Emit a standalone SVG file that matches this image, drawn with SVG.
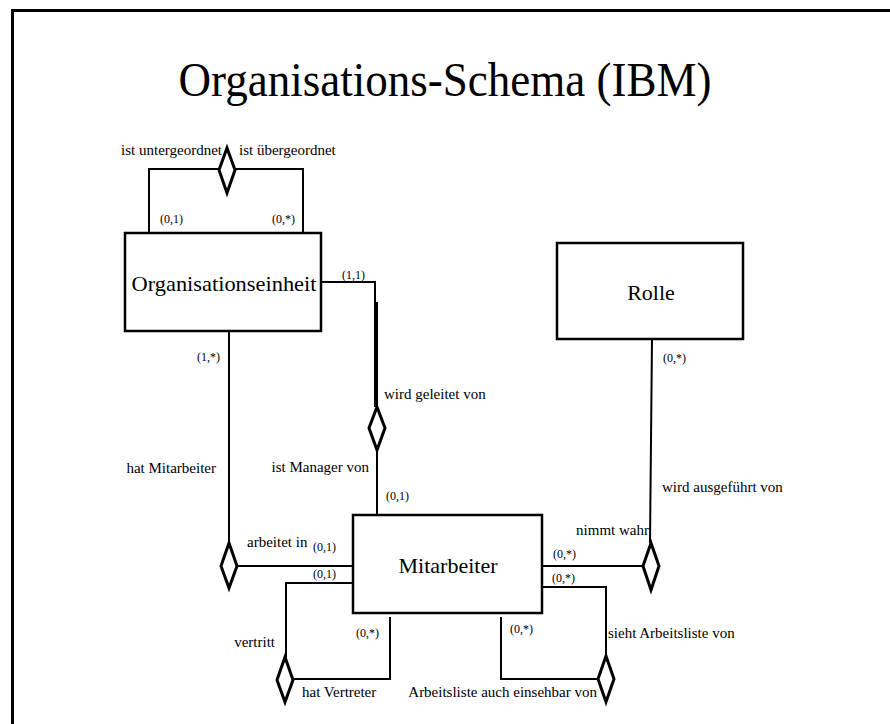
<svg xmlns="http://www.w3.org/2000/svg" width="890" height="724" viewBox="0 0 890 724">
<style>
.box{fill:#fff;stroke:#000;stroke-width:2.5}
.ln{fill:none;stroke:#000;stroke-width:2}
.dia{fill:#fff;stroke:#000;stroke-width:3;stroke-linejoin:miter}
.big{font-size:22px;text-anchor:middle}
.lbl{font-size:15px}
.card{font-size:12px}
</style>
<rect width="890" height="724" fill="#fff"/>
<g id="frame">
<line x1="11" y1="10.5" x2="890" y2="10.5" stroke="#000" stroke-width="3"/>
<line x1="12.5" y1="9" x2="12.5" y2="724" stroke="#000" stroke-width="3"/>
</g>
<g font-family="'Liberation Serif', 'DejaVu Serif', serif" fill="#000">
<text x="445" y="96" font-size="48" text-anchor="middle" textLength="533" lengthAdjust="spacingAndGlyphs">Organisations-Schema (IBM)</text>
</g>

<g id="connectors">
<polyline class="ln" points="149,233 149,169 303,169 303,233"/>
<polygon class="dia" points="227,148 235,170 227,193 219,170"/>
<polyline class="ln" points="321,282 375,282 375,407"/>
<line x1="377" y1="302" x2="377" y2="407" stroke="#000" stroke-width="2"/>
<line class="ln" x1="377" y1="450" x2="377" y2="515"/>
<polygon class="dia" points="377,407 385,428 377,450 369,428"/>
<line class="ln" x1="229" y1="331" x2="229" y2="543"/>
<line class="ln" x1="237" y1="566" x2="353" y2="566"/>
<polygon class="dia" points="229,543 237,566 229,588 221,566"/>
<polyline class="ln" points="353,583 286,583 286,657"/>
<polyline class="ln" points="293,679 390,679 390,617"/>
<polygon class="dia" points="285,657 293,680 285,702 277,680"/>
<line class="ln" x1="652" y1="339" x2="650" y2="543"/>
<line class="ln" x1="542" y1="566" x2="643" y2="566"/>
<polygon class="dia" points="651,543 659,566 651,590 643,566"/>
<polyline class="ln" points="542,587 606,587 606,656"/>
<polyline class="ln" points="598,679 501,679 501,617"/>
<polygon class="dia" points="606,656 614,679 606,702 598,679"/>
</g>

<g font-family="'Liberation Serif', 'DejaVu Serif', serif" fill="#000">
<g id="organisationseinheit">
<rect class="box" x="125" y="233" width="196" height="98"/>
<text class="big" x="224" y="291" textLength="185" lengthAdjust="spacingAndGlyphs">Organisationseinheit</text>
</g>
<g id="rolle">
<rect class="box" x="557" y="243" width="186" height="96"/>
<text class="big" x="651" y="300">Rolle</text>
</g>
<g id="mitarbeiter">
<rect class="box" x="353" y="515" width="189" height="98"/>
<text class="big" x="448" y="573">Mitarbeiter</text>
</g>

<g id="labels">
<text class="lbl" x="222" y="155" text-anchor="end">ist untergeordnet</text>
<text class="lbl" x="239" y="155">ist übergeordnet</text>
<text class="card" x="160" y="223">(0,1)</text>
<text class="card" x="272" y="223">(0,*)</text>
<text class="card" x="342" y="279">(1,1)</text>
<text class="lbl" x="384" y="399">wird geleitet von</text>
<text class="lbl" x="369" y="472" text-anchor="end">ist Manager von</text>
<text class="card" x="386" y="500">(0,1)</text>
<text class="card" x="197" y="361">(1,*)</text>
<text class="lbl" x="216" y="473" text-anchor="end">hat Mitarbeiter</text>
<text class="lbl" x="247" y="547">arbeitet in</text>
<text class="card" x="313" y="551">(0,1)</text>
<text class="card" x="313" y="578">(0,1)</text>
<text class="lbl" x="275" y="647" text-anchor="end">vertritt</text>
<text class="card" x="356" y="637">(0,*)</text>
<text class="lbl" x="302" y="697">hat Vertreter</text>
<text class="lbl" x="597" y="697" text-anchor="end">Arbeitsliste auch einsehbar von</text>
<text class="card" x="663" y="362">(0,*)</text>
<text class="lbl" x="662" y="492">wird ausgeführt von</text>
<text class="lbl" x="649" y="535" text-anchor="end">nimmt wahr</text>
<text class="card" x="553" y="558">(0,*)</text>
<text class="card" x="552" y="582">(0,*)</text>
<text class="card" x="510" y="633">(0,*)</text>
<text class="lbl" x="608" y="638">sieht Arbeitsliste von</text>
</g>
</g>
</svg>
